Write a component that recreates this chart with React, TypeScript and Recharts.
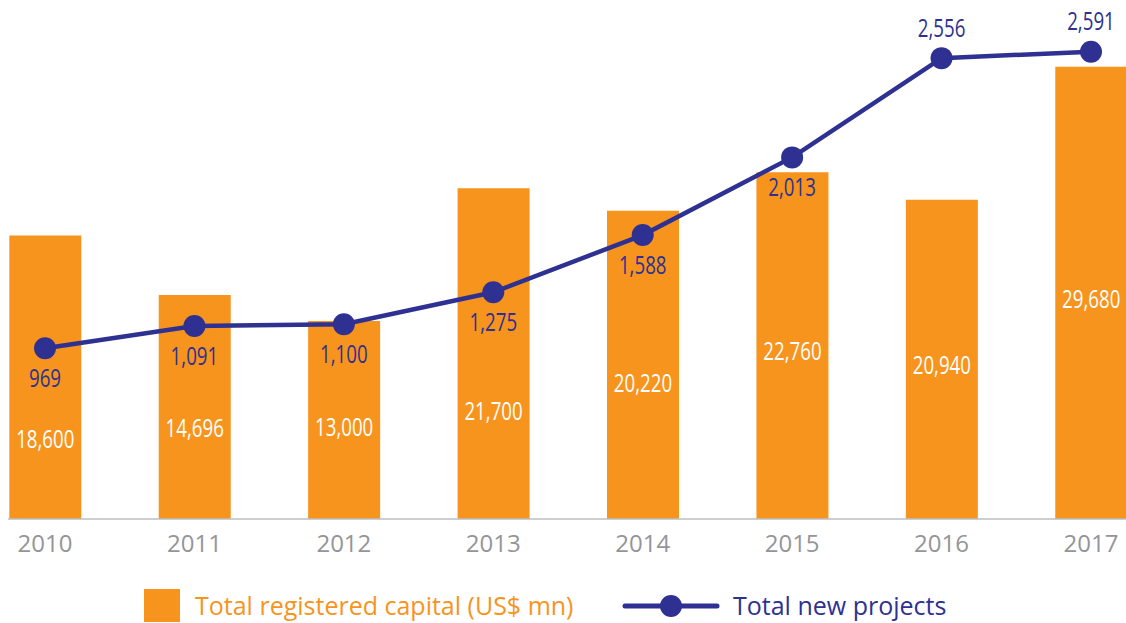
import React from 'react';
import { ComposedChart, Bar, Line, XAxis, YAxis, LabelList, Legend } from 'recharts';

const years = ['2010', '2011', '2012', '2013', '2014', '2015', '2016', '2017'];
const capital = [18600, 14696, 13000, 21700, 20220, 22760, 20940, 29680];
const projects = [969, 1091, 1100, 1275, 1588, 2013, 2556, 2591];

const data = years.map((year, i) => ({ year, capital: capital[i], projects: projects[i] }));

const ORANGE = '#F7941D';
const NAVY = '#2E3192';
const GRAY = '#939598';
const AXIS_GRAY = '#BCBEC0';
const SANS = '"Open Sans", "Noto Sans", sans-serif';

const PLOT_TOP = 0;
const BAR_DOMAIN: [number, number] = [0, 34055];
const LINE_DOMAIN: [number, number] = [35, 2874];
const CONDENSE = 0.72;

const fmt = (v: number) => v.toLocaleString('en-US');

const CondensedText = ({ x, y, fill, children }: any) => (
  <text transform={`translate(${x},${y}) scale(${CONDENSE},1)`} x={0} y={0}
    textAnchor="middle" dominantBaseline="central" fill={fill} fontSize={26} fontFamily={SANS}>
    {children}
  </text>
);

const BarValueLabel = (props: any) => {
  const { x, y, width, height, value, index } = props;
  const bottom = y + height;
  const frac = (projects[index] - LINE_DOMAIN[0]) / (LINE_DOMAIN[1] - LINE_DOMAIN[0]);
  const lineY = bottom - frac * (bottom - PLOT_TOP);
  const ref = Math.max(lineY, y);
  const cy = (ref + bottom) / 2 + 5;
  return <CondensedText x={x + width / 2} y={cy} fill="#FFFFFF">{fmt(value)}</CondensedText>;
};

const LineValueLabel = (props: any) => {
  const { x, y, value } = props;
  const above = y - PLOT_TOP < 80;
  const cy = above ? y - 31 : y + 29;
  return <CondensedText x={x} y={cy} fill={NAVY}>{fmt(value)}</CondensedText>;
};

const YearTick = (props: any) => {
  const { x, y, payload } = props;
  return (
    <text x={x} y={y} dy={15} textAnchor="middle" dominantBaseline="central"
      fill={GRAY} fontSize={24} fontFamily={SANS}>
      {payload.value}
    </text>
  );
};

const LegendContent = () => (
  <div style={{ position: 'relative', width: 1126, height: 40, fontFamily: SANS }}>
    <div style={{ position: 'absolute', left: 144, top: 4, width: 36, height: 33, background: ORANGE }} />
    <div style={{ position: 'absolute', left: 195, top: 2, fontSize: 25, lineHeight: '36px', color: ORANGE, whiteSpace: 'nowrap' }}>
      Total registered capital (US$ mn)
    </div>
    <svg style={{ position: 'absolute', left: 622, top: 8 }} width={98} height={26}>
      <line x1={3} y1={13} x2={95} y2={13} stroke={NAVY} strokeWidth={5} strokeLinecap="round" />
      <circle cx={49} cy={13} r={11} fill={NAVY} />
    </svg>
    <div style={{ position: 'absolute', left: 733, top: 2, fontSize: 25, lineHeight: '36px', color: NAVY, whiteSpace: 'nowrap' }}>
      Total new projects
    </div>
  </div>
);

export default function App() {
  return (
    <div style={{ position: 'absolute', left: 0, top: 0, width: 1126, height: 623, overflow: 'hidden', background: '#fff' }}>
      <ComposedChart width={1126} height={623} data={data}
        margin={{ top: PLOT_TOP, right: 0, bottom: 64, left: 8 }} barSize={72}>
        <XAxis dataKey="year" height={40} tickLine={false} axisLine={{ stroke: AXIS_GRAY, strokeWidth: 1.5 }}
          padding={{ left: -37.7, right: -39.7 }} tick={<YearTick />} interval={0} />
        <YAxis yAxisId="cap" hide domain={BAR_DOMAIN} allowDataOverflow />
        <YAxis yAxisId="proj" hide domain={LINE_DOMAIN} allowDataOverflow orientation="right" />
        <Legend verticalAlign="middle" layout="horizontal" content={<LegendContent />}
          wrapperStyle={{ position: 'absolute', top: 585, left: 0, width: 1126, height: 40 }} />
        <Bar yAxisId="cap" dataKey="capital" fill={ORANGE} isAnimationActive={false}>
          <LabelList dataKey="capital" content={<BarValueLabel />} />
        </Bar>
        <Line yAxisId="proj" dataKey="projects" type="linear" stroke={NAVY} strokeWidth={4.5}
          dot={{ r: 11, fill: NAVY, stroke: 'none' }} activeDot={false} isAnimationActive={false}>
          <LabelList dataKey="projects" content={<LineValueLabel />} />
        </Line>
      </ComposedChart>
    </div>
  );
}
